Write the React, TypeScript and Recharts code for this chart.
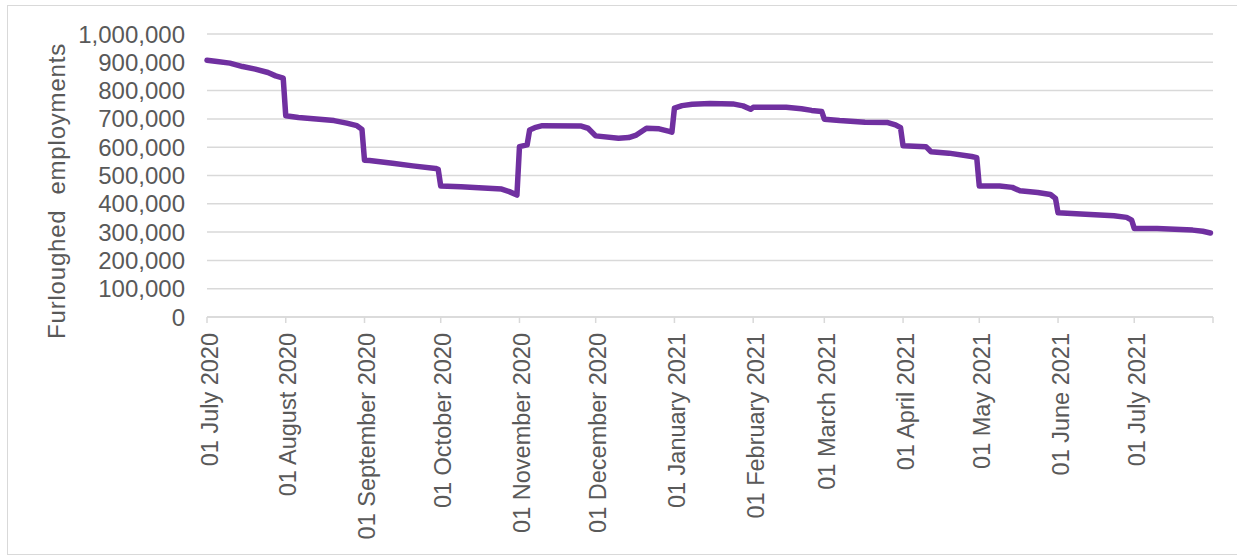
import { CartesianGrid, Line, LineChart, XAxis, YAxis } from "recharts";

const START = Date.UTC(2020, 6, 1);
const DAY_MS = 86400000;

const FONT = "'Liberation Sans', Arial, sans-serif";
const TEXT = "#595959";
const GRID = "#d9d9d9";
const PURPLE = "#7030A0";

// Furloughed employments, sampled where the series changes direction
const dates = [
  "2020-07-01", "2020-07-05", "2020-07-10", "2020-07-15", "2020-07-20", "2020-07-25",
  "2020-07-28", "2020-07-31", "2020-08-01", "2020-08-06", "2020-08-13", "2020-08-20",
  "2020-08-25", "2020-08-29", "2020-08-31", "2020-09-01", "2020-09-03", "2020-09-12",
  "2020-09-20", "2020-09-29", "2020-09-30", "2020-10-01", "2020-10-09", "2020-10-16",
  "2020-10-25", "2020-10-28", "2020-10-31", "2020-11-01", "2020-11-04", "2020-11-05",
  "2020-11-07", "2020-11-10", "2020-11-25", "2020-11-28", "2020-12-01", "2020-12-10",
  "2020-12-14", "2020-12-17", "2020-12-21", "2020-12-26", "2020-12-30", "2020-12-31",
  "2021-01-01", "2021-01-04", "2021-01-08", "2021-01-15", "2021-01-24", "2021-01-28",
  "2021-01-31", "2021-02-01", "2021-02-14", "2021-02-20", "2021-02-24", "2021-02-28",
  "2021-03-01", "2021-03-07", "2021-03-17", "2021-03-26", "2021-03-29", "2021-03-31",
  "2021-04-01", "2021-04-10", "2021-04-12", "2021-04-19", "2021-04-28", "2021-04-30",
  "2021-05-01", "2021-05-09", "2021-05-14", "2021-05-17", "2021-05-24", "2021-05-29",
  "2021-05-31", "2021-06-01", "2021-06-10", "2021-06-23", "2021-06-28", "2021-06-30",
  "2021-07-01", "2021-07-10", "2021-07-24", "2021-07-28", "2021-07-31",
];

const furloughed = [
  907000, 903000, 897000, 885000, 876000, 864000,
  852000, 844000, 711000, 705000, 700000, 694000,
  685000, 676000, 663000, 554000, 553000, 543000,
  534000, 525000, 522000, 463000, 460000, 457000,
  452000, 443000, 431000, 602000, 608000, 661000,
  669000, 676000, 675000, 667000, 640000, 632000,
  634000, 643000, 667000, 665000, 656000, 653000,
  738000, 747000, 752000, 754000, 753000, 746000,
  734000, 741000, 741000, 736000, 730000, 726000,
  699000, 694000, 688000, 687000, 679000, 669000,
  605000, 602000, 584000, 579000, 567000, 563000,
  463000, 463000, 458000, 446000, 440000, 433000,
  419000, 368000, 364000, 358000, 352000, 342000,
  313000, 313000, 307000, 303000, 297000,
];

const tickDates = [
  "2020-07-01", "2020-08-01", "2020-09-01", "2020-10-01", "2020-11-01", "2020-12-01",
  "2021-01-01", "2021-02-01", "2021-03-01", "2021-04-01", "2021-05-01", "2021-06-01",
  "2021-07-01", "2021-08-01",
];

const tickLabels = [
  "01 July 2020", "01 August 2020", "01 September 2020", "01 October 2020",
  "01 November 2020", "01 December 2020", "01 January 2021", "01 February 2021",
  "01 March 2021", "01 April 2021", "01 May 2021", "01 June 2021", "01 July 2021", "",
];

const yTicks = [0, 100000, 200000, 300000, 400000, 500000, 600000, 700000, 800000, 900000, 1000000];

function dayOf(iso: string) {
  const [y, m, d] = iso.split("-").map(Number);
  return Math.round((Date.UTC(y, m - 1, d) - START) / DAY_MS);
}

const data = dates.map((d, i) => ({ day: dayOf(d), value: furloughed[i] }));
const tickDays = tickDates.map(dayOf);
const labelByDay = new Map(tickDays.map((d, i) => [d, tickLabels[i]]));

const withCommas = (v: number) => String(v).replace(/\B(?=(\d{3})+(?!\d))/g, ",");

function MonthTick(props: any) {
  const { x, y, payload } = props;
  const label = labelByDay.get(payload.value) ?? "";
  if (!label) return <g />;
  return (
    <text
      x={x}
      y={y}
      dy={10.5}
      transform={`rotate(-90, ${x}, ${y})`}
      textAnchor="end"
      fill={TEXT}
      fontSize={23.5}
      fontFamily={FONT}
    >
      {label}
    </text>
  );
}

function AxisTitle() {
  return (
    <text
      x={57}
      y={191}
      dy="0.35em"
      transform="rotate(-90, 57, 191)"
      textAnchor="middle"
      fill={TEXT}
      fontSize={24}
      fontFamily={FONT}
      style={{ letterSpacing: 0.8, whiteSpace: "pre" }}
    >
      {"Furloughed  employments"}
    </text>
  );
}

export default function App() {
  return (
    <div style={{ position: "fixed", left: 0, top: 0, width: 1237, height: 555, background: "#fff" }}>
      <div
        style={{
          position: "absolute",
          left: 7,
          top: 5,
          width: 1240,
          height: 548,
          border: `1px solid ${GRID}`,
        }}
      />
      <div style={{ position: "absolute", left: 0, top: 0 }}>
        <LineChart
          width={1237}
          height={555}
          data={data}
          margin={{ top: 34, right: 24, bottom: 0, left: 0 }}
        >
          <CartesianGrid vertical={false} stroke={GRID} strokeWidth={1.5} />
          <XAxis
            dataKey="day"
            type="number"
            domain={[0, 396]}
            ticks={tickDays}
            interval={0}
            height={238}
            tick={<MonthTick />}
            tickSize={6}
            tickMargin={10}
            stroke={GRID}
            strokeWidth={1.5}
            tickLine={{ stroke: GRID, strokeWidth: 1.5 }}
          />
          <YAxis
            type="number"
            domain={[0, 1000000]}
            ticks={yTicks}
            interval={0}
            width={207}
            axisLine={false}
            tickLine={false}
            tickSize={6}
            tickMargin={16}
            tickFormatter={withCommas}
            tick={{ fill: TEXT, fontSize: 24, fontFamily: FONT }}
            label={{ content: () => <AxisTitle /> }}
          />
          <Line
            type="linear"
            dataKey="value"
            stroke={PURPLE}
            strokeWidth={5.5}
            strokeLinejoin="round"
            strokeLinecap="round"
            dot={false}
            activeDot={false}
            isAnimationActive={false}
          />
        </LineChart>
      </div>
    </div>
  );
}
